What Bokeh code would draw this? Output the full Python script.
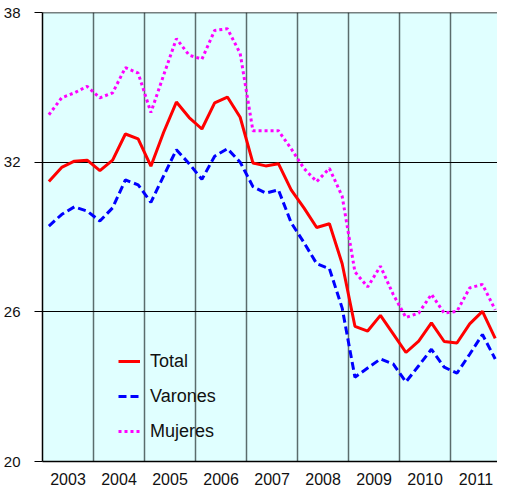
from bokeh.plotting import figure
from bokeh.models import Range1d, FixedTicker, Span, Legend, LegendItem
from bokeh.embed import file_html
from bokeh.resources import INLINE

years = [2003, 2004, 2005, 2006, 2007, 2008, 2009, 2010, 2011]
year_labels = [str(y) for y in years]
quarters = [y + (q + 0.5) / 4 for y in years for q in range(4)]

total = [31.22, 31.79, 32.04, 32.08, 31.66, 32.08, 33.13, 32.93,
         31.84, 33.2, 34.41, 33.79, 33.33, 34.38, 34.61, 33.8,
         31.97, 31.85, 31.94, 30.89, 30.17, 29.38, 29.53, 27.93,
         25.42, 25.23, 25.86, 25.12, 24.37, 24.83, 25.56, 24.81,
         24.75, 25.52, 26.02, 24.94]
varones = [29.44, 29.9, 30.21, 30.04, 29.64, 30.17, 31.29, 31.09,
           30.39, 31.45, 32.5, 31.94, 31.31, 32.24, 32.54, 32.0,
           31.02, 30.76, 30.89, 29.57, 28.78, 27.93, 27.73, 26.15,
           23.38, 23.75, 24.11, 23.91, 23.19, 23.84, 24.5, 23.78,
           23.54, 24.3, 25.09, 24.11]
mujeres = [33.9, 34.58, 34.78, 35.04, 34.58, 34.78, 35.79, 35.57,
           33.99, 35.49, 36.95, 36.29, 36.13, 37.28, 37.35, 36.36,
           33.26, 33.26, 33.26, 32.54, 31.75, 31.22, 31.75, 30.63,
           27.6, 27.0, 27.83, 26.7, 25.77, 25.95, 26.7, 25.95,
           26.02, 26.96, 27.1, 26.08]
y_ticks = [20, 26, 32, 38]

p = figure(width=497, height=487, output_backend="svg", toolbar_location=None,
           x_range=Range1d(2003, 2011.92), y_range=Range1d(20, 38),
           min_border_left=42, min_border_right=0, min_border_top=12,
           min_border_bottom=25)
p.background_fill_color = "#E0FFFF"
p.border_fill_color = "white"
p.outline_line_color = None

# axes
p.yaxis.ticker = FixedTicker(ticks=y_ticks)
p.yaxis.major_tick_out = 8
p.yaxis.major_tick_in = 0
p.yaxis.minor_tick_line_color = None
p.yaxis.major_tick_line_color = "black"
p.yaxis.axis_line_color = "black"
p.yaxis.axis_line_width = 1.5
p.yaxis.major_label_text_font = "Liberation Sans"
p.yaxis.major_label_text_font_size = "15px"
p.yaxis.major_label_text_color = "#111111"
p.yaxis.major_label_standoff = 14

p.xaxis.ticker = FixedTicker(ticks=[y + 0.5 for y in years])
p.xaxis.major_label_overrides = {y + 0.5: lab for y, lab in zip(years, year_labels)}
p.xaxis.major_tick_line_color = None
p.xaxis.minor_tick_line_color = None
p.xaxis.axis_line_color = "black"
p.xaxis.axis_line_width = 1.5
p.xaxis.major_label_text_font = "Liberation Sans"
p.xaxis.major_label_text_font_size = "16px"
p.xaxis.major_label_text_color = "#111111"
p.xaxis.major_label_standoff = 5

# grids
p.ygrid.ticker = FixedTicker(ticks=[26, 32])
p.ygrid.grid_line_color = "black"
p.ygrid.grid_line_width = 1
p.xgrid.ticker = FixedTicker(ticks=years[1:])
p.xgrid.grid_line_color = "#5b6c6c"
p.xgrid.grid_line_width = 1.5
p.add_layout(Span(location=38, dimension="width", line_color="black", line_width=1.5))

r1 = p.line(quarters, total, line_color="#FF0000", line_width=3)
r2 = p.line(quarters, varones, line_color="#0000FF", line_width=3, line_dash="8 4")
r3 = p.line(quarters, mujeres, line_color="#FF00FF", line_width=3, line_dash="3 3")

legend = Legend(items=[LegendItem(label="Total", renderers=[r1]),
                       LegendItem(label="Varones", renderers=[r2]),
                       LegendItem(label="Mujeres", renderers=[r3])],
                location=(76, 19), padding=0, margin=0, spacing=13,
                glyph_width=22, glyph_height=22, label_height=22,
                label_standoff=10, label_text_font="Liberation Sans",
                label_text_font_size="18px", label_text_color="#111111",
                border_line_color=None, background_fill_alpha=0)
p.add_layout(legend, "center")

open("out.html", "w").write(file_html(p, INLINE))
